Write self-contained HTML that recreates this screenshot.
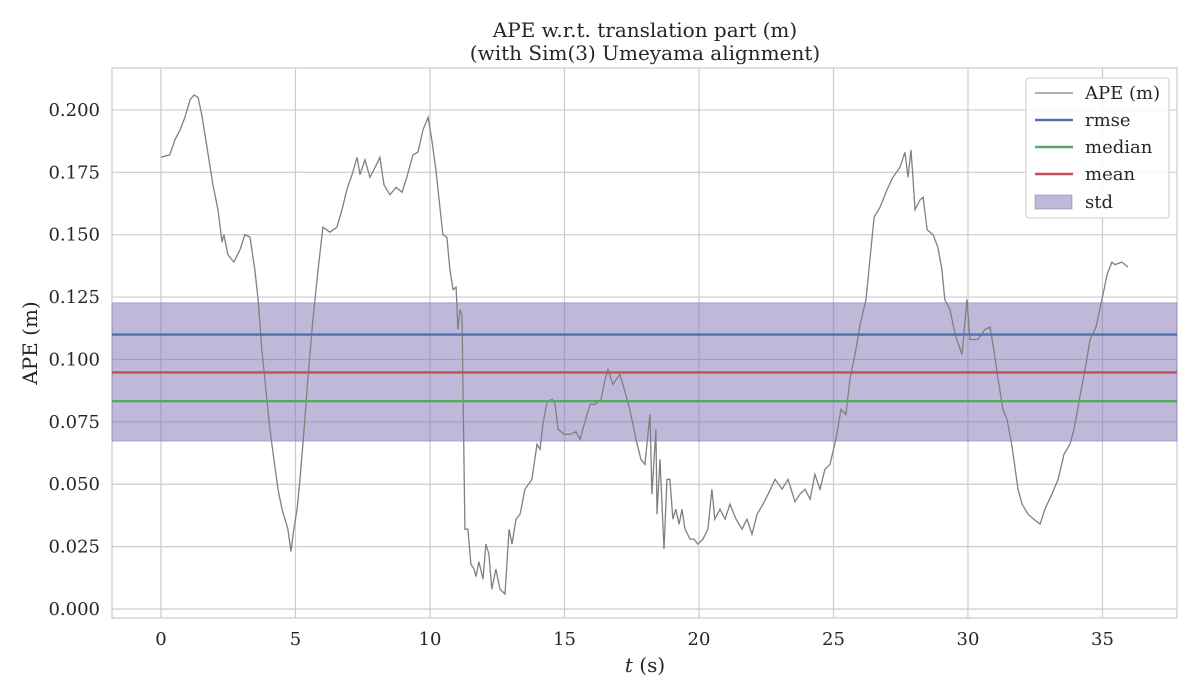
<!DOCTYPE html>
<html><head><meta charset="utf-8"><style>
body{margin:0;background:#fff}
svg{display:block;font-family:"DejaVu Serif","Liberation Serif",serif}
</style></head><body>
<svg id="chart" width="1200" height="700"></svg>
<script>
const times=[0,0.33,0.52,0.71,0.89,1.08,1.23,1.38,1.52,1.71,1.93,2.12,2.27,2.34,2.49,2.71,2.94,3.12,3.31,3.49,3.61,3.75,3.90,4.05,4.20,4.35,4.50,4.61,4.72,4.83,4.94,5.06,5.17,5.32,5.46,5.65,5.84,6.02,6.28,6.54,6.73,6.91,7.10,7.29,7.40,7.58,7.77,7.96,8.14,8.29,8.51,8.74,8.96,9.14,9.37,9.55,9.74,9.93,10.07,10.22,10.37,10.48,10.63,10.74,10.86,10.97,11.04,11.12,11.19,11.30,11.41,11.52,11.64,11.71,11.82,11.97,12.08,12.19,12.30,12.45,12.60,12.79,12.94,13.05,13.20,13.35,13.53,13.79,13.98,14.09,14.20,14.35,14.54,14.65,14.76,14.98,15.20,15.43,15.58,15.76,15.95,16.13,16.36,16.51,16.62,16.80,17.06,17.25,17.43,17.66,17.84,17.99,18.18,18.25,18.40,18.44,18.55,18.70,18.81,18.92,19.03,19.14,19.26,19.37,19.48,19.67,19.81,19.96,20.15,20.33,20.48,20.59,20.78,20.97,21.15,21.38,21.60,21.78,21.97,22.16,22.38,22.57,22.83,23.09,23.31,23.57,23.75,23.94,24.13,24.31,24.50,24.68,24.87,25.09,25.28,25.46,25.61,25.80,25.99,26.21,26.51,26.73,26.99,27.21,27.47,27.66,27.77,27.88,27.96,28.03,28.22,28.33,28.48,28.70,28.88,29.03,29.14,29.33,29.52,29.78,29.96,30.07,30.37,30.63,30.82,30.93,31.12,31.30,31.45,31.64,31.86,32.01,32.23,32.45,32.68,32.86,33.12,33.35,33.57,33.79,33.94,34.16,34.35,34.54,34.76,34.98,35.17,35.35,35.46,35.72,35.95];
const ape=[0.181,0.182,0.188,0.192,0.197,0.204,0.206,0.205,0.198,0.185,0.170,0.160,0.147,0.150,0.142,0.139,0.144,0.150,0.149,0.136,0.124,0.104,0.088,0.072,0.060,0.048,0.040,0.036,0.032,0.023,0.032,0.040,0.052,0.072,0.092,0.116,0.136,0.153,0.151,0.153,0.160,0.168,0.174,0.181,0.174,0.180,0.173,0.177,0.181,0.170,0.166,0.169,0.167,0.173,0.182,0.183,0.192,0.197,0.188,0.176,0.161,0.150,0.149,0.136,0.128,0.129,0.112,0.120,0.118,0.032,0.032,0.018,0.016,0.013,0.019,0.012,0.026,0.022,0.008,0.016,0.008,0.006,0.032,0.026,0.036,0.038,0.048,0.052,0.066,0.064,0.074,0.083,0.084,0.082,0.072,0.070,0.070,0.071,0.068,0.075,0.082,0.082,0.084,0.092,0.096,0.090,0.094,0.087,0.080,0.068,0.060,0.058,0.078,0.046,0.072,0.038,0.060,0.024,0.052,0.052,0.036,0.040,0.034,0.040,0.032,0.028,0.028,0.026,0.028,0.032,0.048,0.036,0.040,0.036,0.042,0.036,0.032,0.036,0.030,0.038,0.042,0.046,0.052,0.048,0.052,0.043,0.046,0.048,0.044,0.054,0.048,0.056,0.058,0.068,0.080,0.078,0.092,0.102,0.114,0.124,0.157,0.161,0.168,0.173,0.177,0.183,0.173,0.184,0.172,0.160,0.164,0.165,0.152,0.150,0.145,0.136,0.124,0.120,0.110,0.102,0.124,0.108,0.108,0.112,0.113,0.106,0.092,0.080,0.076,0.065,0.048,0.042,0.038,0.036,0.034,0.040,0.046,0.052,0.062,0.066,0.072,0.085,0.096,0.108,0.113,0.124,0.134,0.139,0.138,0.139,0.137];
const stats=[0.1100,0.0833,0.0948];
const statNames=["rmse","median","mean"];
const statColors=["#4c72b0","#55a868","#c44e52"];
const stdBand=[0.0673,0.1227];
const xTicks=[0,5,10,15,20,25,30,35];
const yTicks=[0,0.025,0.05,0.075,0.1,0.125,0.15,0.175,0.2];

const NS="http://www.w3.org/2000/svg";
const svg=document.getElementById('chart');
const L=112,R=1177,T=68,B=618;
const xMin=-1.82,xMax=37.77,yMin=-0.0036,yMax=0.2168;
const X=t=>L+(t-xMin)/(xMax-xMin)*(R-L);
const Y=v=>B-(v-yMin)/(yMax-yMin)*(B-T);
function mk(tag,attrs,parent){const e=document.createElementNS(NS,tag);for(const k in attrs)e.setAttribute(k,attrs[k]);(parent||svg).appendChild(e);return e;}

const bg=mk('rect',{x:L,y:T,width:R-L,height:B-T,fill:'#fff',stroke:'#ccc','stroke-width':1.2});



xTicks.forEach(t=>{
  const g=mk('line',{x1:X(t),x2:X(t),y1:T,y2:B,stroke:'#ccc','stroke-width':1.2});
  
  
  const tx=mk('text',{x:X(t),y:B+27,'text-anchor':'middle','font-size':18,fill:'#262626'});
  tx.textContent=t;
  
  
});
yTicks.forEach(v=>{
  const g=mk('line',{x1:L,x2:R,y1:Y(v),y2:Y(v),stroke:'#ccc','stroke-width':1.2});
  
  
  const tx=mk('text',{x:L-12,y:Y(v)+6,'text-anchor':'end','font-size':18,fill:'#262626'});
  tx.textContent=v.toFixed(3);
  
  
});

const band=mk('rect',{x:L,y:Y(stdBand[1]),width:R-L,height:Y(stdBand[0])-Y(stdBand[1]),fill:'#8172b3','fill-opacity':0.5,stroke:'#8172b3','stroke-opacity':0.5});



const pl=mk('polyline',{points:times.map((t,i)=>X(t).toFixed(1)+','+Y(ape[i]).toFixed(1)).join(' '),fill:'none',stroke:'#808080','stroke-width':1.3});



stats.forEach((v,i)=>{
  const l=mk('line',{x1:L,x2:R,y1:Y(v),y2:Y(v),stroke:statColors[i],'stroke-width':2.4});
  
  
});

const lg=mk('g',{});


mk('rect',{x:1026,y:78,width:143,height:140,rx:3,fill:'#fff','fill-opacity':0.85,stroke:'#ccc'},lg);
const entries=[["APE (m)","#808080",1.3],["rmse",statColors[0],2.4],["median",statColors[1],2.4],["mean",statColors[2],2.4]];
entries.forEach((e,i)=>{
  const y=93+i*27;
  const g=mk('g',{},lg);
  
  
  mk('line',{x1:1035,x2:1073,y1:y,y2:y,stroke:e[1],'stroke-width':e[2]},g);
  const t=mk('text',{x:1085,y:y+6,'font-size':18,fill:'#262626'},g);t.textContent=e[0];
});
const gs=mk('g',{},lg);


mk('rect',{x:1035,y:195,width:37,height:14,fill:'#8172b3','fill-opacity':0.5,stroke:'#8172b3','stroke-opacity':0.5},gs);
const ts=mk('text',{x:1085,y:208,'font-size':18,fill:'#262626'},gs);ts.textContent='std';
</script>
<svg width="1200" height="700" style="position:absolute;left:0;top:0;font-family:'DejaVu Serif','Liberation Serif',serif">
<text x="645" y="37" text-anchor="middle" font-size="20" fill="#262626">APE w.r.t. translation part (m)</text>
<text x="645" y="60" text-anchor="middle" font-size="20" fill="#262626">(with Sim(3) Umeyama alignment)</text>
<text x="645" y="672" text-anchor="middle" font-size="20" fill="#262626"><tspan font-style="italic">t</tspan> (s)</text>
<text transform="translate(37,343) rotate(-90)" text-anchor="middle" font-size="20" fill="#262626">APE (m)</text>
</svg>
</body></html>
